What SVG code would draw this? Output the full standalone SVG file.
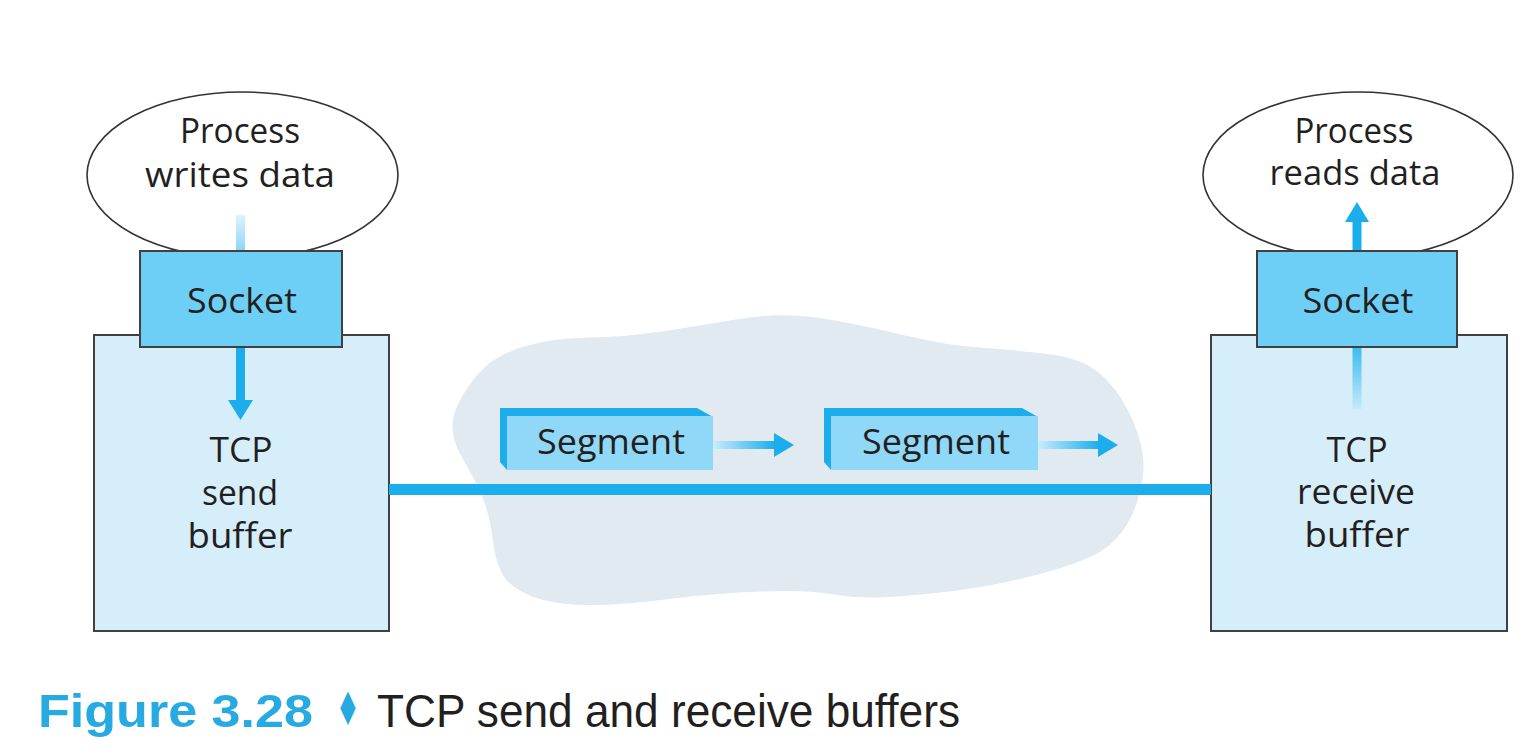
<svg xmlns="http://www.w3.org/2000/svg" width="1526" height="756" viewBox="0 0 1526 756">
<style>
.t{font-family:"Open Sans","Noto Sans","Liberation Sans",sans-serif;font-size:34px;fill:#231F20;text-anchor:middle}
.box{fill:#D6EDFA;stroke:#404040;stroke-width:2}
.sock{fill:#6DCFF6;stroke:#404040;stroke-width:2}
.ell{fill:#FFFFFF;stroke:#333333;stroke-width:1.6}
.dark{fill:#1CAEEC}
.front{fill:#90D8F7}
.ah{fill:#1CAEEC}
.cap{font-family:"Liberation Sans","DejaVu Sans",sans-serif;font-size:46px}
</style>
<defs>
<linearGradient id="gDown" x1="0" y1="0" x2="0" y2="1">
<stop offset="0" stop-color="#DDF3FD"/>
<stop offset="1" stop-color="#8ED7F7"/>
</linearGradient>
<linearGradient id="gUp" x1="0" y1="1" x2="0" y2="0">
<stop offset="0" stop-color="#C4EAFB"/>
<stop offset="1" stop-color="#3DBCEF"/>
</linearGradient>
<linearGradient id="gRight" x1="0" y1="0" x2="1" y2="0">
<stop offset="0" stop-color="#C8ECFB"/>
<stop offset="1" stop-color="#1CAEEC"/>
</linearGradient>
</defs>

<g id="network">
<path fill="#E1E9F1" d="M461.5,456.5 Q446,430 457,406.5 Q468,383 484,368 Q500,353 527.5,345.5 Q555,338 589,337.5 Q623,337 657.5,332 Q692,327 735.5,319.5 Q779,312 816,317.5 Q853,323 899,334 Q945,345 979,347.5 Q1013,350 1047.5,354 Q1082,358 1100.5,374 Q1119,390 1132.5,420 Q1146,450 1143,475 Q1140,500 1129.5,520 Q1119,540 1100.5,551.5 Q1082,563 1036,575 Q990,587 944.5,592 Q899,597 876,597.5 Q853,598 830,594 Q807,590 761,591.5 Q715,593 669,599 Q623,605 589,605 Q555,605 532,596.5 Q509,587 502,573.5 Q495,560 492.5,538.5 Q490,517 483.5,500 Q477,483 461.5,456.5 Z"/>
</g>

<g id="segment1">
<polygon class="dark" points="500,408 697,408 713,417 713,470 507,470 500,462"/>
<rect class="front" x="507" y="416" width="206" height="54"/>
<text class="t" x="611" y="454" textLength="148" lengthAdjust="spacingAndGlyphs">Segment</text>
</g>

<g id="segment2">
<polygon class="dark" points="824,408 1022,408 1038,417 1038,470 831,470 824,462"/>
<rect class="front" x="831" y="416" width="207" height="54"/>
<text class="t" x="936" y="454" textLength="148" lengthAdjust="spacingAndGlyphs">Segment</text>
</g>

<g id="sendBuffer">
<rect class="box" x="94" y="335" width="295" height="296"/>
<text class="t" x="241" y="462" textLength="63" lengthAdjust="spacingAndGlyphs">TCP</text>
<text class="t" x="240" y="505" textLength="76" lengthAdjust="spacingAndGlyphs">send</text>
<text class="t" x="240" y="548" textLength="105" lengthAdjust="spacingAndGlyphs">buffer</text>
</g>

<g id="receiveBuffer">
<rect class="box" x="1211" y="335" width="296" height="296"/>
<text class="t" x="1357" y="462" textLength="61" lengthAdjust="spacingAndGlyphs">TCP</text>
<text class="t" x="1356" y="504" textLength="118" lengthAdjust="spacingAndGlyphs">receive</text>
<text class="t" x="1357" y="547" textLength="105" lengthAdjust="spacingAndGlyphs">buffer</text>
</g>

<g id="writerProcess">
<ellipse class="ell" cx="242.5" cy="175" rx="155.5" ry="83"/>
<text class="t" x="240" y="143" textLength="120" lengthAdjust="spacingAndGlyphs">Process</text>
<text class="t" x="240" y="187" textLength="190" lengthAdjust="spacingAndGlyphs">writes data</text>
</g>

<g id="readerProcess">
<ellipse class="ell" cx="1358" cy="175" rx="155" ry="83"/>
<text class="t" x="1354" y="143" textLength="119" lengthAdjust="spacingAndGlyphs">Process</text>
<text class="t" x="1355" y="185" textLength="171" lengthAdjust="spacingAndGlyphs">reads data</text>
</g>

<g id="senderSocket">
<rect class="sock" x="140" y="251" width="202" height="96"/>
<text class="t" x="242" y="313" textLength="110" lengthAdjust="spacingAndGlyphs">Socket</text>
</g>
<g id="receiverSocket">
<rect class="sock" x="1257" y="251" width="200" height="96"/>
<text class="t" x="1358" y="313" textLength="111" lengthAdjust="spacingAndGlyphs">Socket</text>
</g>

<g id="connectors">
<rect x="389" y="484" width="822" height="11" fill="#1CAEEC"/>
<rect x="236" y="215" width="9" height="35" fill="url(#gDown)"/>
<rect x="236" y="348" width="9" height="53" fill="#1CAEEC"/>
<polygon class="ah" points="228,400 253,400 240.5,420"/>
<rect x="1352.5" y="348" width="9" height="61" fill="url(#gUp)"/>
<rect x="1352.5" y="221" width="9" height="29" fill="#1CAEEC"/>
<polygon class="ah" points="1345,222 1369,222 1357,202"/>
<rect x="713" y="441" width="62" height="8" fill="url(#gRight)"/>
<polygon class="ah" points="774,433 774,457 794,445"/>
<rect x="1038" y="441" width="61" height="8" fill="url(#gRight)"/>
<polygon class="ah" points="1098,433 1098,457 1118,445"/>
</g>

<g id="caption">
<text class="cap" x="38" y="727" font-weight="bold" fill="#27AAE1" textLength="275" lengthAdjust="spacingAndGlyphs">Figure 3.28</text>
<text x="348" y="725" font-family="DejaVu Sans,sans-serif" font-size="46" fill="#27AAE1" text-anchor="middle" transform="translate(348 0) scale(0.6 1) translate(-348 0)">♦</text>
<text class="cap" x="377" y="727" fill="#231F20" textLength="583" lengthAdjust="spacingAndGlyphs">TCP send and receive buffers</text>
</g>
</svg>
